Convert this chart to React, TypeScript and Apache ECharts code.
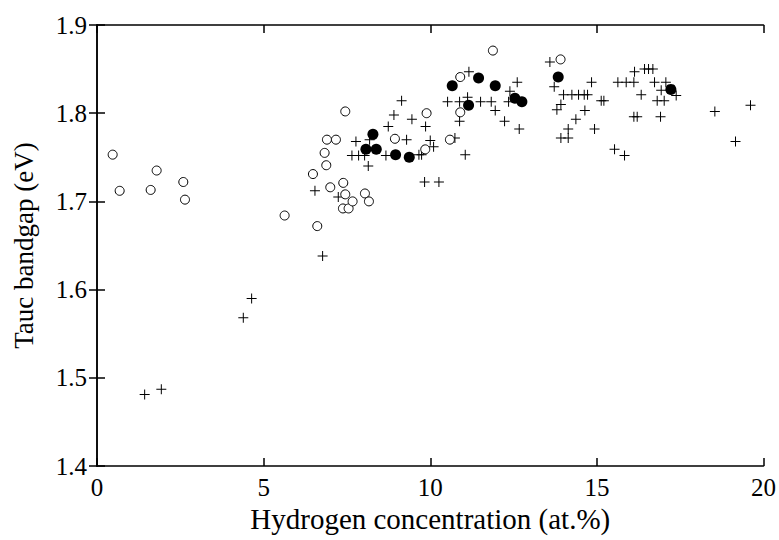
import React, { useEffect, useRef } from "react";
import * as echarts from "echarts";

// Hydrogen concentration (at.%) vs Tauc bandgap (eV)
const openCircles: number[][] = [
  [0.47, 1.753], [0.68, 1.712], [1.61, 1.713], [1.79, 1.735], [2.59, 1.722], [2.64, 1.702],
  [5.63, 1.684], [6.48, 1.731], [6.61, 1.672], [6.83, 1.755], [6.88, 1.741], [6.9, 1.77],
  [7.0, 1.716], [7.17, 1.77], [7.39, 1.721], [7.45, 1.708], [7.45, 1.802], [7.38, 1.692],
  [7.55, 1.692], [7.67, 1.7], [8.04, 1.709], [8.16, 1.7], [8.94, 1.771], [9.85, 1.759],
  [9.89, 1.8], [10.59, 1.77], [10.9, 1.801], [10.9, 1.841], [11.88, 1.871], [13.91, 1.861],
];

const filledCircles: number[][] = [
  [8.07, 1.759], [8.28, 1.776], [8.38, 1.759], [8.96, 1.753], [9.37, 1.75], [10.66, 1.831],
  [11.15, 1.809], [11.45, 1.84], [11.95, 1.831], [12.54, 1.817], [12.75, 1.813], [13.84, 1.841],
  [17.22, 1.827],
];

const crosses: number[][] = [
  [1.43, 1.481], [1.93, 1.487], [4.39, 1.568], [4.64, 1.59], [6.54, 1.712], [6.77, 1.638],
  [7.24, 1.705], [7.65, 1.752], [7.77, 1.768], [7.85, 1.752], [8.03, 1.752], [8.14, 1.74],
  [8.18, 1.77], [8.67, 1.752], [8.74, 1.785], [8.91, 1.798], [9.14, 1.814], [9.29, 1.77],
  [9.45, 1.793], [9.66, 1.753], [9.74, 1.753], [9.83, 1.722], [9.86, 1.785], [10.0, 1.769],
  [10.1, 1.762], [10.26, 1.722], [10.52, 1.813], [10.74, 1.772], [10.88, 1.813], [10.88, 1.791],
  [11.05, 1.753], [11.12, 1.818], [11.16, 1.847], [11.51, 1.813], [11.83, 1.813], [11.95, 1.803],
  [12.23, 1.791], [12.35, 1.813], [12.39, 1.825], [12.61, 1.835], [12.67, 1.782], [13.59, 1.858],
  [13.72, 1.83], [13.8, 1.804], [13.92, 1.81], [13.92, 1.772], [14.0, 1.821], [14.14, 1.782],
  [14.14, 1.772], [14.25, 1.821], [14.37, 1.793], [14.45, 1.821], [14.62, 1.821], [14.64, 1.803],
  [14.72, 1.821], [14.84, 1.835], [14.93, 1.782], [15.13, 1.814], [15.21, 1.814], [15.53, 1.759],
  [15.63, 1.835], [15.83, 1.752], [15.88, 1.835], [16.11, 1.835], [16.11, 1.796], [16.13, 1.847],
  [16.21, 1.796], [16.33, 1.821], [16.43, 1.85], [16.55, 1.85], [16.68, 1.85], [16.73, 1.835],
  [16.81, 1.814], [16.91, 1.796], [16.93, 1.826], [17.02, 1.814], [17.07, 1.835], [17.38, 1.82],
  [18.54, 1.802], [19.16, 1.768], [19.61, 1.809],
];

const FONT = "Liberation Serif";
const PLUS = "path://M4.5,0H5.5V4.5H10V5.5H5.5V10H4.5V5.5H0V4.5H4.5Z";

export default function App() {
  const ref = useRef<HTMLDivElement>(null);

  useEffect(() => {
    if (!ref.current) return;
    const chart = echarts.init(ref.current, undefined, { renderer: "svg" });

    const line = { show: true, lineStyle: { color: "#000", width: 1.5 } };
    const tick = { show: true, inside: true, length: 8, lineStyle: { color: "#000", width: 1.5 } };

    chart.setOption({
      animation: false,
      backgroundColor: "#fff",
      grid: { left: 97, right: 12, top: 25, bottom: 74, containLabel: false },
      xAxis: [
        {
          type: "value", min: 0, max: 20, interval: 5, position: "bottom",
          axisLine: line, axisTick: tick, splitLine: { show: false },
          axisLabel: { color: "#000", fontFamily: FONT, fontSize: 25, margin: 9 },
          name: "Hydrogen concentration (at.%)", nameLocation: "middle", nameGap: 35,
          nameTextStyle: { color: "#000", fontFamily: FONT, fontSize: 29 },
        },
        {
          type: "value", min: 0, max: 20, interval: 5, position: "top",
          axisLine: line, axisTick: tick, splitLine: { show: false }, axisLabel: { show: false },
        },
      ],
      yAxis: [
        {
          type: "value", min: 1.4, max: 1.9, interval: 0.1, position: "left",
          axisLine: line, axisTick: tick, splitLine: { show: false },
          axisLabel: {
            color: "#000", fontFamily: FONT, fontSize: 25, margin: 10,
            formatter: (v: number) => v.toFixed(1),
          },
          name: "Tauc bandgap (eV)", nameLocation: "middle", nameGap: 60,
          nameTextStyle: { color: "#000", fontFamily: FONT, fontSize: 27 },
        },
        {
          type: "value", min: 1.4, max: 1.9, interval: 0.1, position: "right",
          axisLine: line, axisTick: tick, splitLine: { show: false }, axisLabel: { show: false },
        },
      ],
      series: [
        {
          type: "scatter", data: crosses, symbol: PLUS, symbolSize: 10,
          itemStyle: { color: "#000", opacity: 1 },
        },
        {
          type: "scatter", data: openCircles, symbol: "circle", symbolSize: 9,
          itemStyle: { color: "#fff", borderColor: "#000", borderWidth: 1, opacity: 1 },
        },
        {
          type: "scatter", data: filledCircles, symbol: "circle", symbolSize: 11,
          itemStyle: { color: "#000", opacity: 1 },
        },
      ],
    });

    return () => chart.dispose();
  }, []);

  return <div ref={ref} style={{ width: 779, height: 540, position: "absolute", left: 0, top: 0 }} />;
}
